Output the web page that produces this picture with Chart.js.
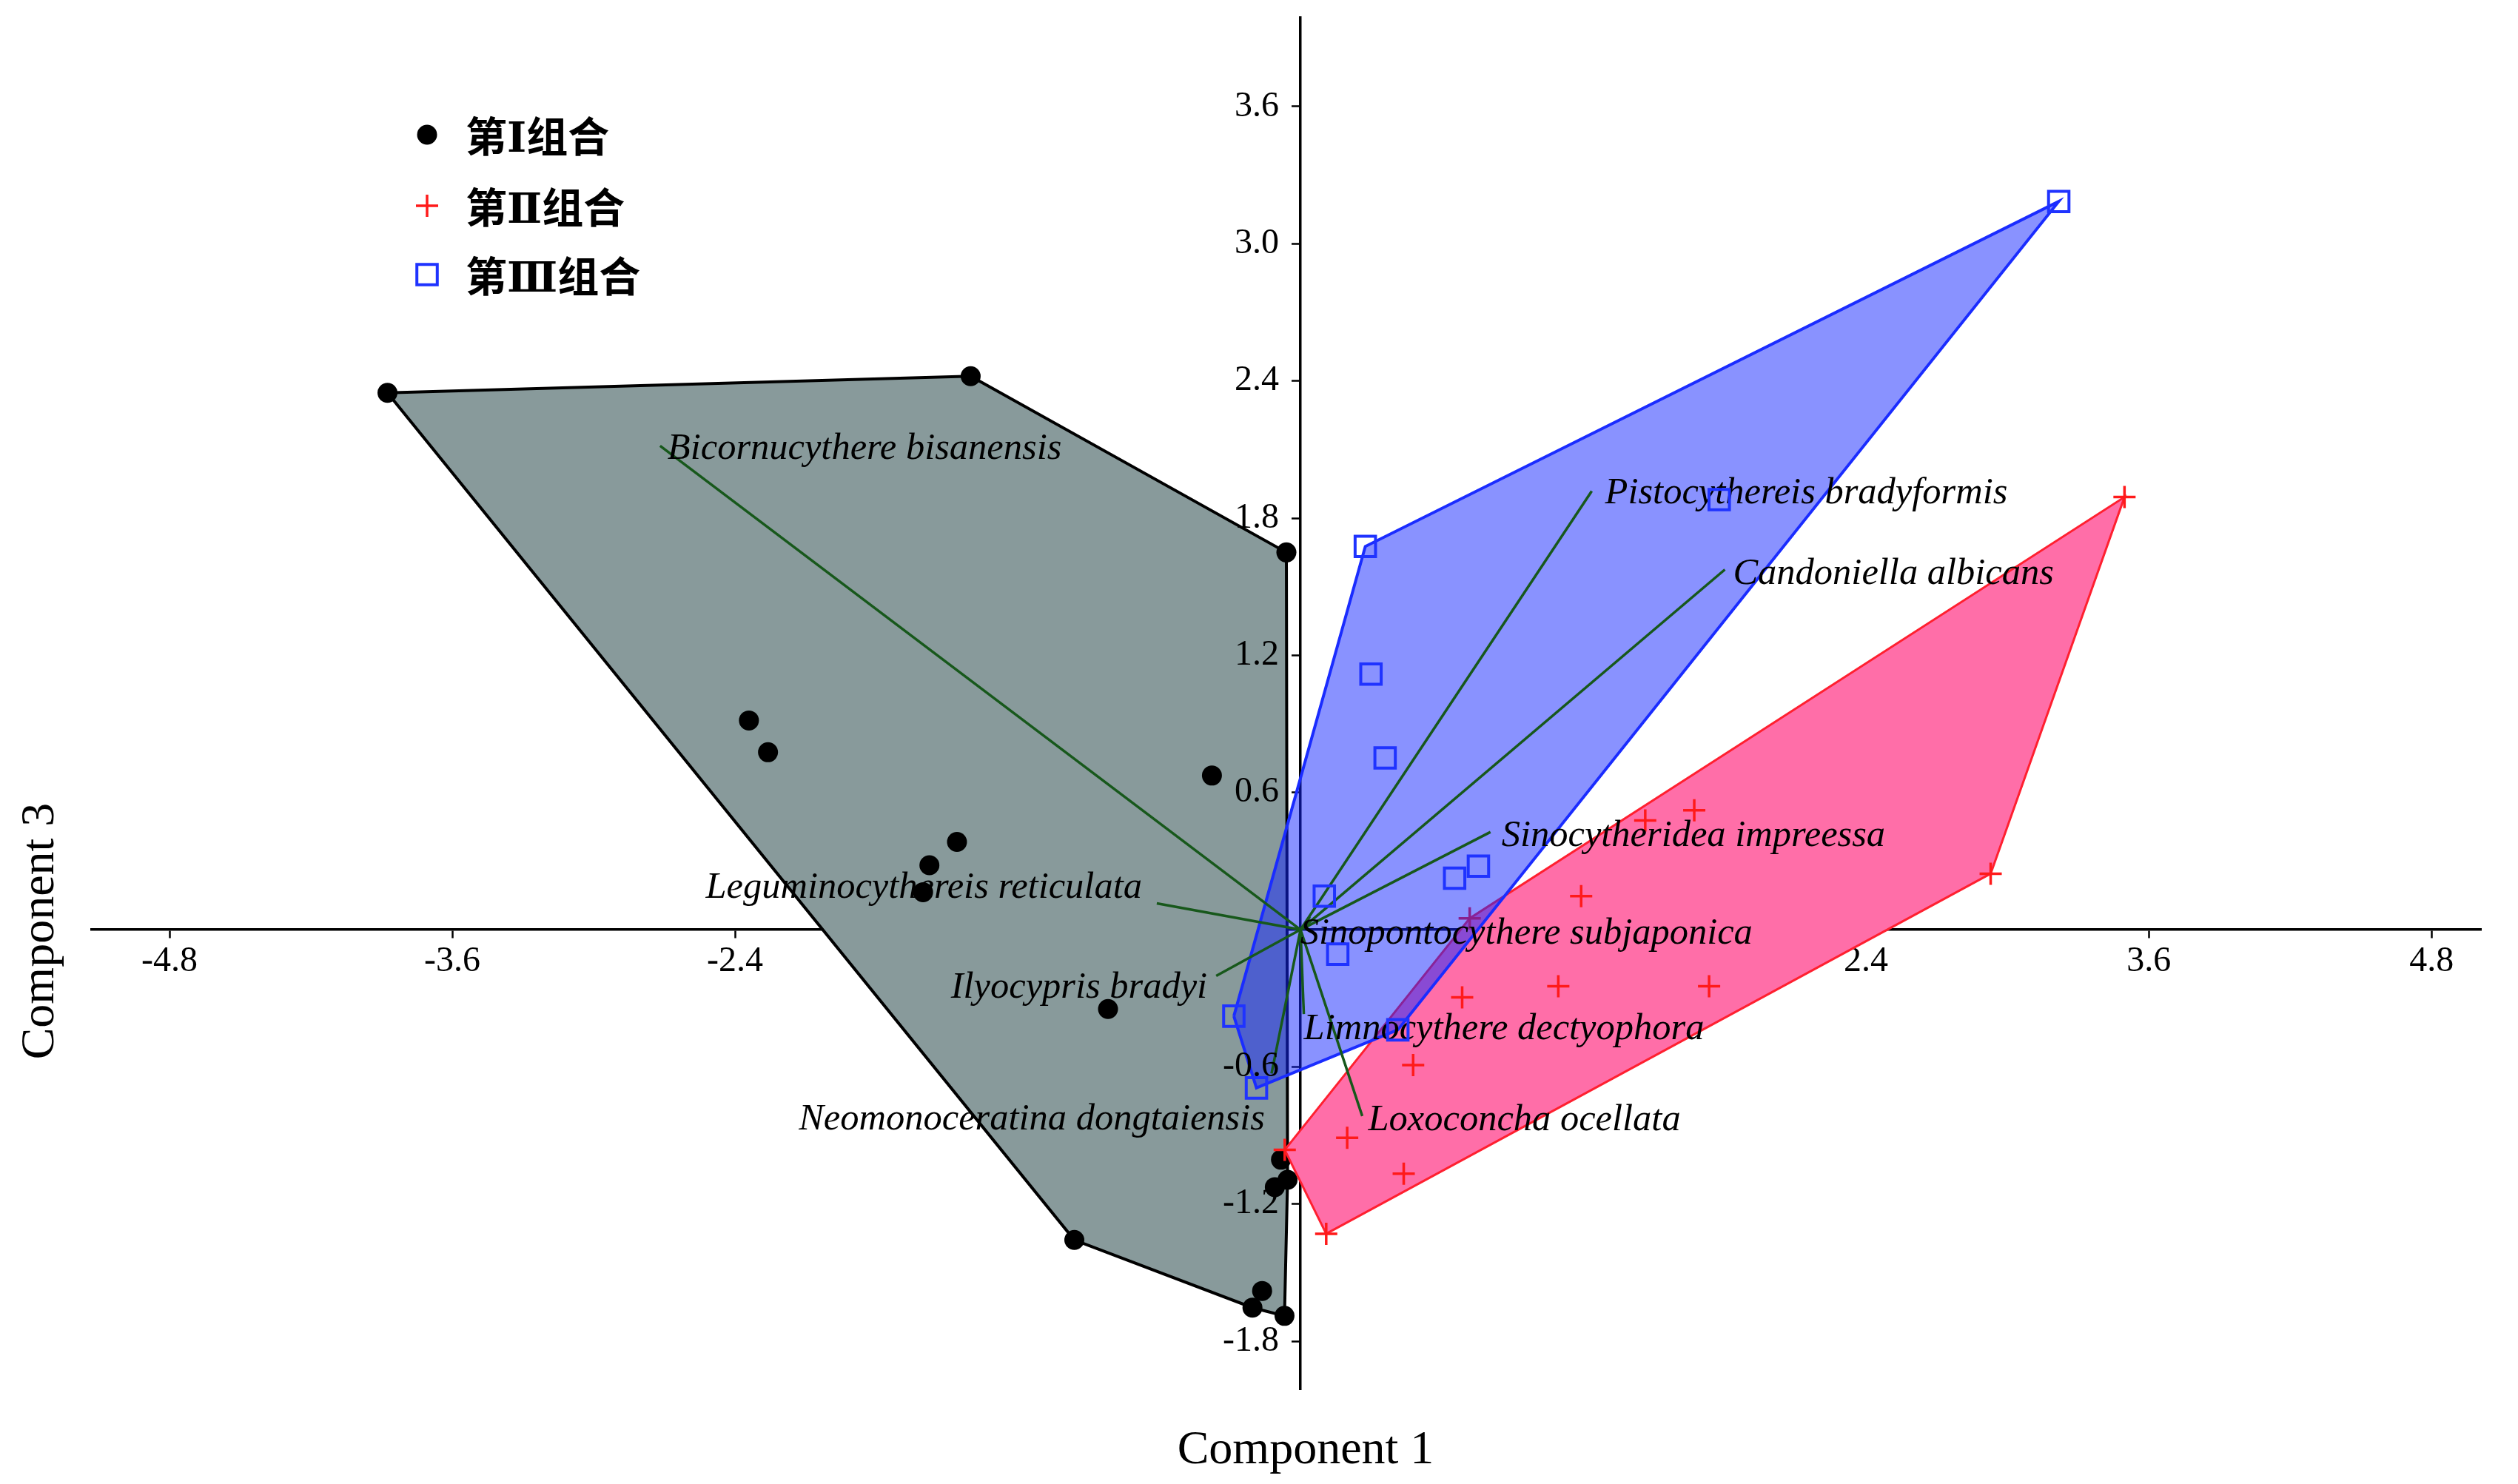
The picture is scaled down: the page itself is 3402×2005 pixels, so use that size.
<!DOCTYPE html>
<html lang="zh">
<head>
<meta charset="UTF-8">
<title>Component 1 / Component 3</title>
<script src="https://cdn.jsdelivr.net/npm/chart.js@4/dist/chart.umd.min.js"></script>
<style>
    html, body { margin: 0; padding: 0; background: #ffffff; }
    #wrap { width: 3402px; height: 2005px; }
</style>
</head>
<body>
<div id="wrap"><canvas id="chart" width="3402" height="2005"></canvas></div>
<script>
// group I samples (black dots)
const group1X = [-3.875, -1.400, -0.060, -2.341, -2.260, -0.376, -1.458, -1.575, -1.602, -0.817, -0.083, -0.055, -0.109, -0.960, -0.163, -0.204, -0.068];
const group1Y = [2.348, 2.421, 1.650, 0.915, 0.776, 0.674, 0.384, 0.282, 0.164, -0.347, -1.006, -1.094, -1.126, -1.357, -1.580, -1.653, -1.689];

// group II samples (red crosses)
const group2X = [3.497, 2.929, 1.671, 1.463, 1.191, 0.718, 1.094, 1.734, 0.686, 0.478, 0.198, 0.438, -0.067, 0.109];
const group2Y = [1.892, 0.245, 0.522, 0.478, 0.147, 0.050, -0.247, -0.247, -0.296, -0.592, -0.910, -1.067, -0.963, -1.330];

// group III samples (blue squares)
const group3X = [3.218, 1.777, 0.275, 0.299, 0.359, 0.755, 0.654, 0.101, 0.158, -0.283, -0.187, 0.413];
const group3Y = [3.185, 1.881, 1.676, 1.118, 0.751, 0.278, 0.225, 0.147, -0.107, -0.378, -0.692, -0.438];

// species loadings (biplot lines)
const speciesNames = [
    'Bicornucythere bisanensis',
    'Pistocythereis bradyformis',
    'Candoniella albicans',
    'Sinocytheridea impreessa',
    'Leguminocythereis reticulata',
    'Sinopontocythere subjaponica',
    'Ilyocypris bradyi',
    'Limnocythere dectyophora',
    'Neomonoceratina dongtaiensis',
    'Loxoconcha ocellata'
];
const loadX = [-2.718, 1.236, 1.801, 0.806, -0.610, 0.040, -0.358, 0.014, -0.123, 0.262];
const loadY = [2.116, 1.918, 1.575, 0.427, 0.115, 0.056, -0.202, -0.369, -0.629, -0.815];

const groupNames = ['第Ⅰ组合', '第Ⅱ组合', '第Ⅲ组合'];
const xTicks = [-4.8, -3.6, -2.4, -1.2, 1.2, 2.4, 3.6, 4.8];
const yTicks = [-1.8, -1.2, -0.6, 0.6, 1.2, 1.8, 2.4, 3.0, 3.6];

// label placement next to the line ends: [align, dx, dy] in px
const labelPlace = [
    ['left', 10, 4], ['left', 18, 3], ['left', 11, 6], ['left', 15, 6],
    ['right', -20, -21], ['left', -13, 23], ['right', -12, 16],
    ['left', 0, 21], ['right', -9, 62], ['left', 8, 6]
];

const pts = (xs, ys) => xs.map((x, i) => ({ x: x, y: ys[i] }));

// convex hull (monotone chain), closed
function hull(points) {
    const p = points.slice().sort((a, b) => a.x - b.x || a.y - b.y);
    const cross = (o, a, b) => (a.x - o.x) * (b.y - o.y) - (a.y - o.y) * (b.x - o.x);
    const lower = [], upper = [];
    for (const q of p) {
        while (lower.length >= 2 && cross(lower[lower.length - 2], lower[lower.length - 1], q) <= 0) lower.pop();
        lower.push(q);
    }
    for (let i = p.length - 1; i >= 0; i--) {
        const q = p[i];
        while (upper.length >= 2 && cross(upper[upper.length - 2], upper[upper.length - 1], q) <= 0) upper.pop();
        upper.push(q);
    }
    const h = lower.slice(0, -1).concat(upper.slice(0, -1));
    h.push(h[0]);
    return h;
}

const g1 = pts(group1X, group1Y);
const g2 = pts(group2X, group2Y);
const g3 = pts(group3X, group3Y);

const dotStyle = { pointStyle: 'circle', radius: 13.5, borderWidth: 0, fill: '#000000', stroke: '#000000' };
const crossStyle = { pointStyle: 'cross', radius: 15, borderWidth: 3.5, fill: '#ff1a1a', stroke: '#ff1a1a' };
const rectStyle = { pointStyle: 'rect', radius: 19.5, borderWidth: 4, fill: 'rgba(0,0,0,0)', stroke: '#1f33ff' };

const datasets = [
    { type: 'line', data: hull(g1), fill: 'shape', backgroundColor: '#889a9b', borderColor: '#000000', borderWidth: 4, pointRadius: 0, tension: 0, order: 9 },
    { type: 'scatter', data: g1, pointStyle: 'circle', pointRadius: dotStyle.radius, backgroundColor: '#000000', borderColor: '#000000', borderWidth: 0, order: 8 },
    { type: 'line', data: hull(g2), fill: 'shape', backgroundColor: '#ff6ea8', borderColor: '#ff2030', borderWidth: 3, pointRadius: 0, tension: 0, order: 7 },
    { type: 'scatter', data: g2, pointStyle: 'cross', pointRadius: crossStyle.radius, borderColor: crossStyle.stroke, borderWidth: crossStyle.borderWidth, order: 6 },
    { type: 'line', data: hull(g3), fill: 'shape', backgroundColor: 'rgba(20,38,255,0.5)', borderColor: '#1a2cff', borderWidth: 4, pointRadius: 0, tension: 0, order: 5 }
];
speciesNames.forEach((name, i) => {
    datasets.push({ type: 'line', label: name, data: [{ x: 0, y: 0 }, { x: loadX[i], y: loadY[i] }], borderColor: '#17581b', borderWidth: 3.5, pointRadius: 0, fill: false, order: 4 });
});
const squaresIndex = datasets.length;
datasets.push({ type: 'scatter', data: g3, pointStyle: 'rect', pointRadius: rectStyle.radius, backgroundColor: 'rgba(0,0,0,0)', borderColor: rectStyle.stroke, borderWidth: rectStyle.borderWidth, order: 3 });

const extras = {
    id: 'extras',
    beforeDatasetDraw(chart, args) {
        if (args.index !== squaresIndex) return;
        const ctx = chart.ctx, xs = chart.scales.x, ys = chart.scales.y;
        ctx.save();
        ctx.font = 'italic 50.5px "Liberation Serif"';
        ctx.fillStyle = '#000000';
        ctx.textBaseline = 'middle';
        speciesNames.forEach((name, i) => {
            const pl = labelPlace[i];
            ctx.textAlign = pl[0];
            ctx.fillText(name, xs.getPixelForValue(loadX[i]) + pl[1], ys.getPixelForValue(loadY[i]) + pl[2]);
        });
        ctx.restore();
    },
    afterDraw(chart) {
        const ctx = chart.ctx, xs = chart.scales.x, ys = chart.scales.y;
        ctx.save();
        // y tick labels, left of the centred axis
        ctx.font = '48px "Liberation Serif"';
        ctx.fillStyle = '#000000';
        ctx.textAlign = 'right';
        ctx.textBaseline = 'middle';
        const ax = xs.getPixelForValue(0);
        yTicks.forEach(v => ctx.fillText(v.toFixed(1), ax - 29, ys.getPixelForValue(v)));
        // legend
        const styles = [dotStyle, crossStyle, rectStyle];
        const rowsY = [182, 278, 371];
        groupNames.forEach((name, i) => {
            const s = styles[i];
            ctx.fillStyle = s.fill;
            ctx.strokeStyle = s.stroke;
            ctx.lineWidth = s.borderWidth;
            Chart.helpers.drawPoint(ctx, { pointStyle: s.pointStyle, radius: s.radius, rotation: 0, borderWidth: s.borderWidth }, 577, rowsY[i]);
            ctx.fillStyle = '#000000';
            ctx.font = 'bold 56px "Liberation Serif", "DejaVu Serif", "Noto Sans CJK SC"';
            ctx.textAlign = 'left';
            ctx.textBaseline = 'middle';
            ctx.fillText(name, 629, rowsY[i] + 9);
        });
        // axis titles
        ctx.font = '64px "Liberation Serif"';
        ctx.fillStyle = '#000000';
        ctx.textAlign = 'center';
        ctx.textBaseline = 'alphabetic';
        ctx.fillText('Component 1', 1764, 1977);
        ctx.translate(72, 1258);
        ctx.rotate(-Math.PI / 2);
        ctx.fillText('Component 3', 0, 0);
        ctx.restore();
    }
};

const noPad = (s) => { s.paddingTop = 0; s.paddingBottom = 0; s.paddingLeft = 0; s.paddingRight = 0; };

const axisCommon = {
    type: 'linear',
    z: 1,
    afterFit: noPad,
    border: { display: true, color: '#000000', width: 3.5 },
    grid: { display: true, drawOnChartArea: false, drawTicks: true, tickLength: 10, tickWidth: 2.5, tickColor: '#000000' },
};

new Chart(document.getElementById('chart'), {
    type: 'scatter',
    data: { datasets: datasets },
    options: {
        responsive: false,
        devicePixelRatio: 1,
        animation: false,
        events: [],
        layout: { padding: { left: 124, right: 50, top: 17, bottom: 128 } },
        plugins: { legend: { display: false }, tooltip: { enabled: false } },
        scales: {
            x: Object.assign({}, axisCommon, {
                position: { y: 0 },
                min: -5.13, max: 5.01,
                afterBuildTicks: (s) => { s.ticks = xTicks.map(v => ({ value: v })); },
                ticks: { padding: 5, color: '#000000', font: { family: 'Liberation Serif', size: 48 }, maxRotation: 0, autoSkip: false, callback: v => v.toFixed(1) }
            }),
            y: Object.assign({}, axisCommon, {
                position: { x: 0 },
                min: -2.01, max: 3.99,
                afterBuildTicks: (s) => { s.ticks = yTicks.map(v => ({ value: v })); },
                ticks: { display: false }
            })
        }
    },
    plugins: [extras]
});
</script>
</body>
</html>
